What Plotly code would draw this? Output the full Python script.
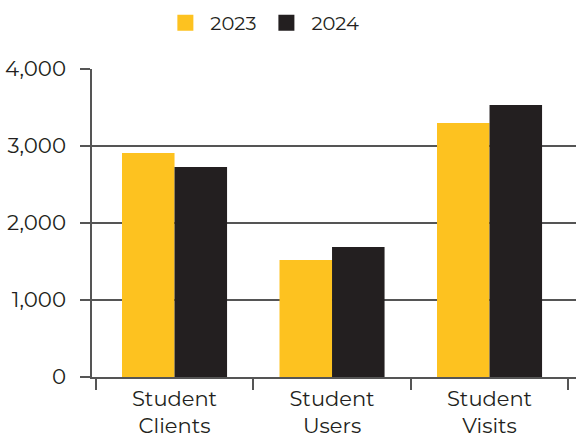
import plotly.graph_objects as go

categories = ["Student<br>Clients", "Student<br>Users", "Student<br>Visits"]
series_names = ["2023", "2024"]
values_2023 = [2910, 1520, 3300]
values_2024 = [2727, 1688, 3533]
y_ticks = [0, 1000, 2000, 3000, 4000]

colors = {"2023": "#FDC220", "2024": "#231F20"}
FONT = "Montserrat, Open Sans, Lato, sans-serif"
TEXT = "#231F20"

fig = go.Figure()
for name, vals in zip(series_names, [values_2023, values_2024]):
    fig.add_trace(go.Bar(x=categories, y=vals, name=name, marker_color=colors[name],
                         marker_line_width=0, showlegend=False))
    fig.add_trace(go.Scatter(x=[None], y=[None], mode="markers", name=name,
                             marker=dict(symbol="square", size=22, color=colors[name])))

fig.update_layout(
    width=579, height=438,
    margin=dict(l=92, r=3, t=69, b=61, autoexpand=False),
    paper_bgcolor="white", plot_bgcolor="white",
    barmode="group", bargap=0.333, bargroupgap=0,
    font=dict(family=FONT, size=20, color=TEXT),
    legend=dict(orientation="h", x=0.352, xanchor="center", y=1.149, yanchor="middle",
                font=dict(size=19.5, color=TEXT), itemwidth=40, tracegroupgap=0),
    xaxis=dict(showline=True, linecolor="#555555", linewidth=1.5, ticks="outside",
               tickson="boundaries", ticklen=11, tickcolor="#555555", tickwidth=1.5,
               range=[-0.524, 2.549],
               showgrid=False, automargin=False, ticklabelstandoff=2,
               tickfont=dict(size=21, color=TEXT)),
    yaxis=dict(range=[0, 4000], tickvals=y_ticks, tickformat=",", showline=True,
               linecolor="#555555", linewidth=1.5, ticks="outside", ticklen=10,
               tickcolor="#555555", tickwidth=1.5, showgrid=True, gridcolor="#555555",
               gridwidth=1.5, zeroline=False, automargin=False, ticklabelstandoff=10,
               tickfont=dict(size=21.3, color=TEXT)),
)

fig.write_html("out.html", config={"displayModeBar": False},
               post_script="document.body.style.margin='0';")
